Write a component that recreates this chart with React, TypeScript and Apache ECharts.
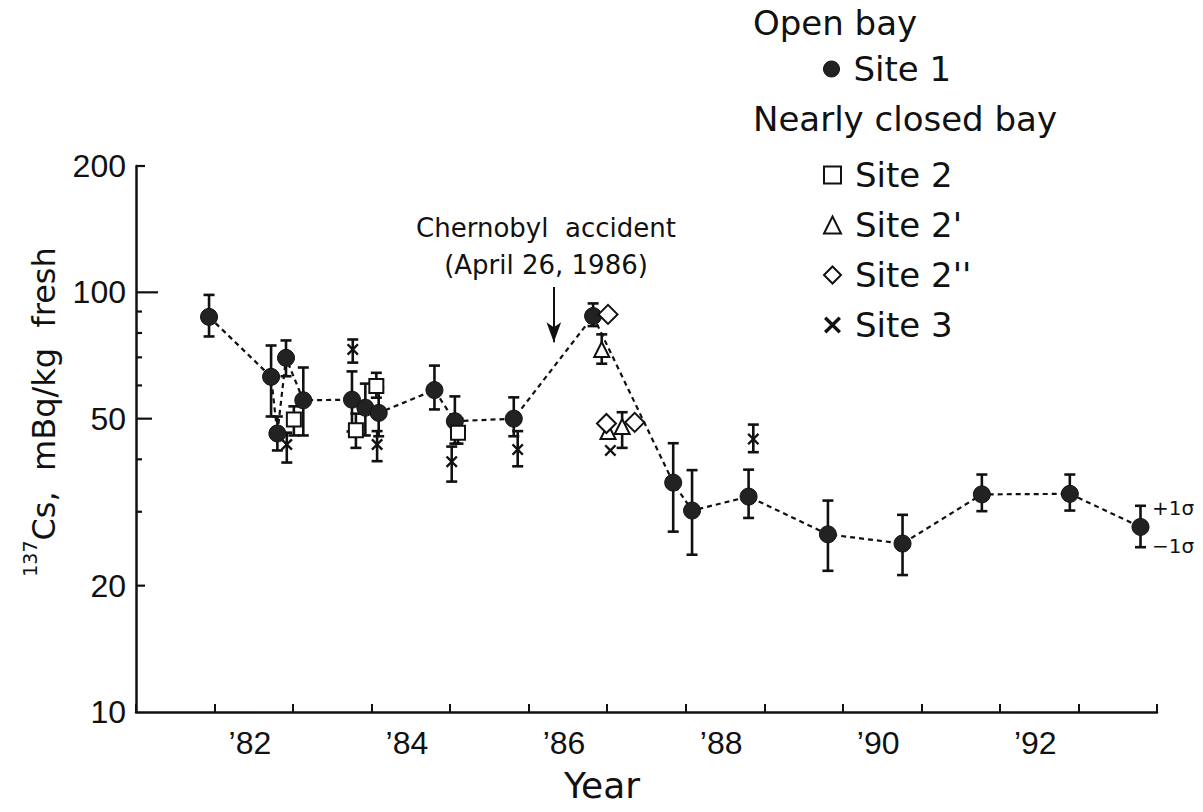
import React, { useEffect, useRef } from "react";
import * as echarts from "echarts";

// ---------- data ----------
const site1Years = [1981.93, 1982.72, 1982.8, 1982.91, 1983.13, 1983.75, 1983.92, 1984.09, 1984.8, 1985.06, 1985.81, 1986.82, 1987.84, 1988.08, 1988.8, 1989.81, 1990.76, 1991.77, 1992.89, 1993.79];
const site1Values = [87.4, 62.9, 46.1, 69.8, 55.3, 55.5, 53.1, 51.6, 58.5, 49.3, 50.0, 87.8, 35.2, 30.2, 32.6, 26.5, 25.2, 33.0, 33.1, 27.6];
const site1Upper = [98.6, 74.7, 50.6, 76.8, 66.2, 64.8, 60.6, 59.3, 66.9, 56.5, 56.2, 94.1, 43.7, 37.7, 37.8, 31.9, 29.5, 36.8, 36.8, 31.0];
const site1Lower = [78.5, 50.6, 42.0, 63.1, 45.6, 46.6, 45.6, 45.4, 52.6, 43.6, 45.4, 83.1, 26.9, 23.7, 29.0, 21.7, 21.2, 30.1, 30.2, 24.7];

const site2Years = [1983.01, 1983.8, 1984.06, 1985.1];
const site2Values = [49.8, 46.9, 59.8, 46.3];
const site2Upper = [53.5, 51.4, 64.3, 50.0];
const site2Lower = [45.6, 42.6, 56.1, 43.6];

const site2pYears = [1986.93, 1987.01, 1987.19];
const site2pValues = [73.1, 46.6, 47.9];
const site2pUpper = [79.4, null, 51.8];
const site2pLower = [67.6, null, 42.6];

const site2ppYears = [1987.01, 1986.99, 1987.35];
const site2ppValues = [88.6, 48.7, 49.0];

const site3Years = [1982.92, 1983.76, 1984.07, 1985.02, 1985.86, 1987.04, 1988.86];
const site3Values = [43.4, 73.1, 43.4, 39.5, 42.2, 42.0, 44.7];
const site3Upper = [46.3, 77.2, 46.7, 42.9, 46.7, null, 48.4];
const site3Lower = [39.3, 68.0, 39.6, 35.4, 38.5, null, 41.6];

const xMin = 1981;
const xMax = 1994;
const xLabelYears = [1982, 1984, 1986, 1988, 1990, 1992];
const yMin = 10;
const yMax = 200;
const yLabelValues = [10, 20, 50, 100, 200];
const yTickLong = [100];
const yTickMid = [50];
const yTickShort = [20, 200];
const yTickMinor = [30, 40, 60, 70, 80, 90];
const chernobylDate = 1986.32;
const arrowFrom = 103;
const arrowTo = 76;

// ---------- helpers ----------
const FONT = '"DejaVu Sans", sans-serif';
const TICK_FONT = '"Liberation Sans", Arial, sans-serif';
const INK = "#111";
const lg = (v: number) => Math.log10(v);
const pts = (ys: number[], vs: number[]) => ys.map((y, i) => [y, lg(vs[i])]);
const errs = (ys: number[], lo: (number | null)[], hi: (number | null)[]) =>
  ys
    .map((y, i) => (lo[i] == null || hi[i] == null ? null : [y, lg(lo[i] as number), lg(hi[i] as number)]))
    .filter((d) => d !== null) as number[][];

const X_PATH = "path://M1.4,0 L5,3.6 L8.6,0 L10,1.4 L6.4,5 L10,8.6 L8.6,10 L5,6.4 L1.4,10 L0,8.6 L3.6,5 L0,1.4 Z";

const errorRender = (_params: any, api: any) => {
  const x = api.value(0);
  const p1 = api.coord([x, api.value(1)]);
  const p2 = api.coord([x, api.value(2)]);
  const w = 5.5;
  const style = { stroke: INK, lineWidth: 2.6 };
  return {
    type: "group",
    children: [
      { type: "line", shape: { x1: p1[0], y1: p1[1], x2: p2[0], y2: p2[1] }, style },
      { type: "line", shape: { x1: p1[0] - w, y1: p1[1], x2: p1[0] + w, y2: p1[1] }, style },
      { type: "line", shape: { x1: p2[0] - w, y1: p2[1], x2: p2[0] + w, y2: p2[1] }, style },
    ],
  };
};

const errSeries = (name: string, data: number[][]) => ({
  name,
  type: "custom",
  renderItem: errorRender,
  data,
  encode: { x: 0, y: [1, 2] },
  z: 1,
  silent: true,
});

// y-axis ticks of several lengths, placed through the axis scale
const yTickSeries = (name: string, vals: number[], len: number) => ({
  name,
  type: "custom",
  silent: true,
  clip: false,
  z: 5,
  data: vals.map((v) => [xMin, lg(v)]),
  encode: { x: 0, y: 1 },
  renderItem: (_p: any, api: any) => {
    const p = api.coord([api.value(0), api.value(1)]);
    return { type: "line", shape: { x1: p[0], y1: p[1], x2: p[0] + len, y2: p[1] }, style: { stroke: INK, lineWidth: 2.2 } };
  },
});

const openStyle = { color: "#fff", borderColor: INK, borderWidth: 2, opacity: 1 };

export default function App() {
  const ref = useRef<HTMLDivElement>(null);
  useEffect(() => {
    if (!ref.current) return;
    const chart = echarts.init(ref.current, undefined, { renderer: "svg" });
    const legendText = { fontFamily: FONT, fontSize: 34, color: INK, lineHeight: 40, padding: [0, 0, 0, 9] };
    const option: any = {
      animation: false,
      backgroundColor: "#fff",
      grid: { left: 136, right: 46, top: 166, bottom: 100 },
      xAxis: {
        type: "value",
        min: xMin,
        max: xMax,
        interval: 1,
        splitLine: { show: false },
        axisLine: { lineStyle: { color: INK, width: 2.5 } },
        axisTick: { inside: true, length: 8, lineStyle: { color: INK, width: 2 } },
        axisLabel: {
          customValues: xLabelYears.map((y) => y + 0.45),
          formatter: (v: number) => "\u2019" + String(Math.floor(v)).slice(2),
          fontFamily: TICK_FONT,
          fontSize: 32,
          color: INK,
          margin: 15,
        },
      },
      yAxis: {
        type: "value",
        min: lg(yMin),
        max: lg(yMax),
        splitLine: { show: false },
        axisLine: { show: true, lineStyle: { color: INK, width: 2.5 } },
        axisTick: { show: false },
        axisLabel: {
          customValues: yLabelValues.map(lg),
          formatter: (v: number) => String(Math.round(Math.pow(10, v))),
          fontFamily: TICK_FONT,
          fontSize: 32,
          color: INK,
          margin: 10,
        },
      },
      legend: [
        {
          left: 818,
          top: 44,
          selectedMode: false,
          itemWidth: 16,
          itemHeight: 16,
          data: [{ name: "Site 1", icon: "circle", itemStyle: { color: "#222", borderColor: INK, borderWidth: 1 } }],
          textStyle: legendText,
        },
        {
          left: 818,
          top: 150,
          orient: "vertical",
          itemGap: 10,
          selectedMode: false,
          itemWidth: 17,
          itemHeight: 17,
          data: [
            { name: "Site 2", icon: "rect", itemStyle: { ...openStyle } },
            { name: "Site 2'", icon: "triangle", itemStyle: { ...openStyle } },
            { name: "Site 2''", icon: "diamond", itemStyle: { ...openStyle } },
            { name: "Site 3", icon: X_PATH, itemStyle: { color: INK, borderWidth: 0, opacity: 1 } },
          ],
          textStyle: legendText,
        },
      ],
      graphic: [
        { type: "text", left: 753, top: 6, style: { text: "Open bay", fontFamily: FONT, fontSize: 34, fill: INK } },
        { type: "text", left: 753, top: 102, style: { text: "Nearly closed bay", fontFamily: FONT, fontSize: 34, fill: INK } },
        { type: "text", x: 546, y: 228, style: { text: "Chernobyl  accident", fontFamily: FONT, fontSize: 26, fill: INK, align: "center", verticalAlign: "middle" } },
        { type: "text", x: 546, y: 265, style: { text: "(April 26, 1986)", fontFamily: FONT, fontSize: 26, fill: INK, align: "center", verticalAlign: "middle" } },
        { type: "text", x: 1152, y: 508, style: { text: "+1\u03c3", fontFamily: FONT, fontSize: 20, fill: INK, align: "left", verticalAlign: "middle" } },
        { type: "text", x: 1152, y: 546, style: { text: "\u22121\u03c3", fontFamily: FONT, fontSize: 20, fill: INK, align: "left", verticalAlign: "middle" } },
        { type: "text", x: 602, y: 785, style: { text: "Year", fontFamily: FONT, fontSize: 36, fill: INK, align: "center", verticalAlign: "middle" } },
        {
          type: "text",
          x: 40,
          y: 412,
          rotation: Math.PI / 2,
          style: {
            text: "{s|137}{m|Cs,  mBq/kg  fresh}",
            fontFamily: FONT,
            fill: INK,
            align: "center",
            verticalAlign: "middle",
            rich: {
              s: { fontFamily: FONT, fontSize: 19, fill: INK, verticalAlign: "top", lineHeight: 40 },
              m: { fontFamily: FONT, fontSize: 32, fill: INK, verticalAlign: "bottom", lineHeight: 40 },
            },
          },
        },
      ],
      series: [
        errSeries("err1", errs(site1Years, site1Lower, site1Upper)),
        errSeries("err2", errs(site2Years, site2Lower, site2Upper)),
        errSeries("err2p", errs(site2pYears, site2pLower, site2pUpper)),
        errSeries("err3", errs(site3Years, site3Lower, site3Upper)),
        yTickSeries("tickLong", yTickLong, 22),
        yTickSeries("tickMid", yTickMid, 16),
        yTickSeries("tickShort", yTickShort, 9),
        yTickSeries("tickMinor", yTickMinor, 6),
        {
          name: "Site 1",
          type: "line",
          data: pts(site1Years, site1Values),
          symbol: "circle",
          symbolSize: 17,
          itemStyle: { color: "#222", borderColor: INK, borderWidth: 1, opacity: 1 },
          lineStyle: { color: INK, width: 2.2, type: [5, 4] },
          z: 3,
          markLine: {
            silent: true,
            symbol: ["none", "arrow"],
            symbolSize: [11, 20],
            label: { show: false },
            lineStyle: { color: INK, width: 2, type: "solid" },
            data: [[{ coord: [chernobylDate, lg(arrowFrom)] }, { coord: [chernobylDate, lg(arrowTo)] }]],
          },
        },
        {
          name: "Site 2",
          type: "scatter",
          data: pts(site2Years, site2Values),
          symbol: "rect",
          symbolSize: 14,
          itemStyle: { ...openStyle },
          z: 4,
        },
        {
          name: "Site 2'",
          type: "scatter",
          data: pts(site2pYears, site2pValues),
          symbol: "triangle",
          symbolSize: 15,
          itemStyle: { ...openStyle },
          z: 4,
        },
        {
          name: "Site 2''",
          type: "scatter",
          data: pts(site2ppYears, site2ppValues),
          symbol: "diamond",
          symbolSize: 19,
          itemStyle: { ...openStyle },
          z: 4,
        },
        {
          name: "Site 3",
          type: "scatter",
          data: pts(site3Years, site3Values),
          symbol: X_PATH,
          symbolSize: 12,
          itemStyle: { color: INK, opacity: 1 },
          z: 4,
        },
      ],
    };
    chart.setOption(option);
    return () => chart.dispose();
  }, []);
  return <div ref={ref} style={{ position: "absolute", left: 0, top: 0, width: 1203, height: 812 }} />;
}
